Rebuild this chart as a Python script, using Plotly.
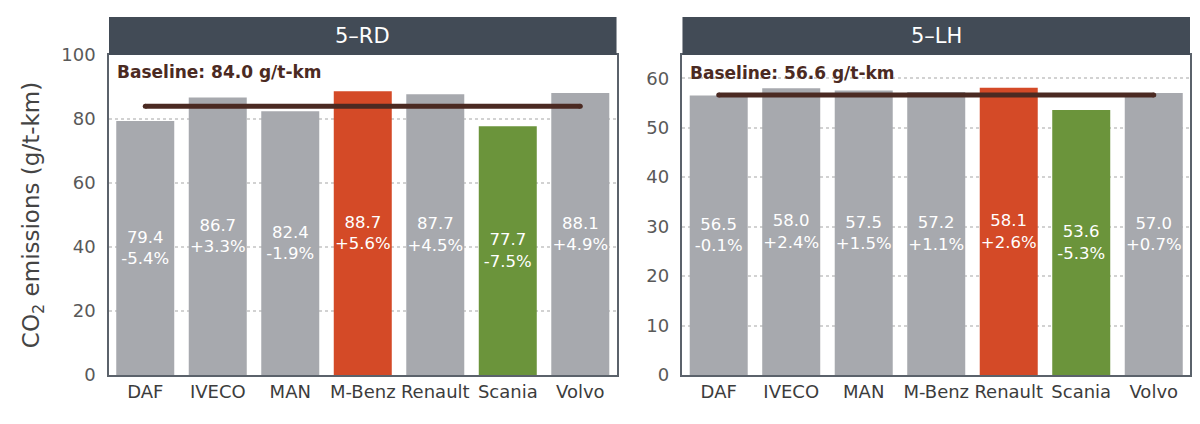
import plotly.graph_objects as go
from plotly.subplots import make_subplots

makers = ["DAF", "IVECO", "MAN", "M-Benz", "Renault", "Scania", "Volvo"]

rd_values = [79.4, 86.7, 82.4, 88.7, 87.7, 77.7, 88.1]
rd_change = [-5.4, 3.3, -1.9, 5.6, 4.5, -7.5, 4.9]
rd_baseline = 84.0

lh_values = [56.5, 58.0, 57.5, 57.2, 58.1, 53.6, 57.0]
lh_change = [-0.1, 2.4, 1.5, 1.1, 2.6, -5.3, 0.7]
lh_baseline = 56.6

panels = ["5\u2013RD", "5\u2013LH"]

GREY = "#a7a9ae"
RED = "#d44a27"
GREEN = "#6b943b"
HEADER = "#424b56"
BROWN = "#4b2a22"
FONT = "DejaVu Sans"

fig = make_subplots(rows=1, cols=2, horizontal_spacing=0.061)


def bar_colors(vals):
    hi, lo = max(vals), min(vals)
    return [RED if v == hi else GREEN if v == lo else GREY for v in vals]


for i, (vals, chg, base) in enumerate([(rd_values, rd_change, rd_baseline),
                                       (lh_values, lh_change, lh_baseline)]):
    col = i + 1
    labels = [f"{v:.1f}<br>{c:+.1f}%" for v, c in zip(vals, chg)]
    fig.add_trace(go.Bar(
        x=makers, y=vals, text=labels,
        marker=dict(color=bar_colors(vals), line=dict(width=0)),
        textposition="inside", insidetextanchor="middle", constraintext="none",
        textfont=dict(color="white", size=16.5, family=FONT),
        textangle=0, showlegend=False, hoverinfo="skip",
    ), row=1, col=col)
    # line with dot markers at the ends to get rounded caps
    fig.add_trace(go.Scatter(
        x=[makers[0], makers[-1]], y=[base, base], mode="lines+markers",
        line=dict(color=BROWN, width=5),
        marker=dict(color=BROWN, size=5, line=dict(width=0)),
        showlegend=False, hoverinfo="skip",
    ), row=1, col=col)

# page has an 8px body margin, so the figure is sized to fit inside it
fig.update_layout(
    width=1184, height=408,
    margin=dict(l=101, r=2, t=47, b=41),
    paper_bgcolor="white", plot_bgcolor="white",
    bargap=0.2,
    uniformtext=dict(minsize=16.5, mode="show"),
    font=dict(family=FONT, color="#444"),
)

axis_common = dict(showline=True, linecolor="#5b626b", linewidth=1.5, mirror=True,
                   automargin=False)
fig.update_xaxes(**axis_common, tickfont=dict(size=18, color="#3c3c3c"), ticks="",
                 range=[-0.5, 6.5])
fig.update_yaxes(**axis_common, showgrid=True, gridcolor="#d2d2d2", griddash="dot",
                 gridwidth=1.5, zeroline=False, ticks="", ticklabelstandoff=8,
                 tickfont=dict(size=18, color="#595959"))
fig.update_yaxes(range=[0, 100], dtick=20, row=1, col=1,
                 title=dict(text="CO<sub>2</sub> emissions (g/t-km)",
                            font=dict(size=23, color="#444")))
fig.update_yaxes(range=[0, 64.7], dtick=10, row=1, col=2)

# panel headers
for i, name in enumerate(panels):
    dom = fig.layout["xaxis" if i == 0 else "xaxis2"].domain
    fig.add_shape(type="rect", xref="paper", yref="paper",
                  x0=dom[0], x1=dom[1], y0=1, y1=1 + 38 / 320,
                  fillcolor=HEADER, line=dict(width=0), layer="above")
    fig.add_annotation(xref="paper", yref="paper", x=(dom[0] + dom[1]) / 2,
                       y=1 + 19 / 320, text=name, showarrow=False,
                       font=dict(size=21, color="white", family=FONT),
                       xanchor="center", yanchor="middle")

fig.add_annotation(xref="x", yref="y", x=-0.42, y=94.6,
                   text=f"<b>Baseline: {rd_baseline:.1f} g/t-km</b>", showarrow=False,
                   xanchor="left", yanchor="middle",
                   font=dict(size=17, color=BROWN, family=FONT))
fig.add_annotation(xref="x2", yref="y2", x=-0.42, y=61.0,
                   text=f"<b>Baseline: {lh_baseline:.1f} g/t-km</b>", showarrow=False,
                   xanchor="left", yanchor="middle",
                   font=dict(size=17, color=BROWN, family=FONT))

fig.write_html("out.html")
